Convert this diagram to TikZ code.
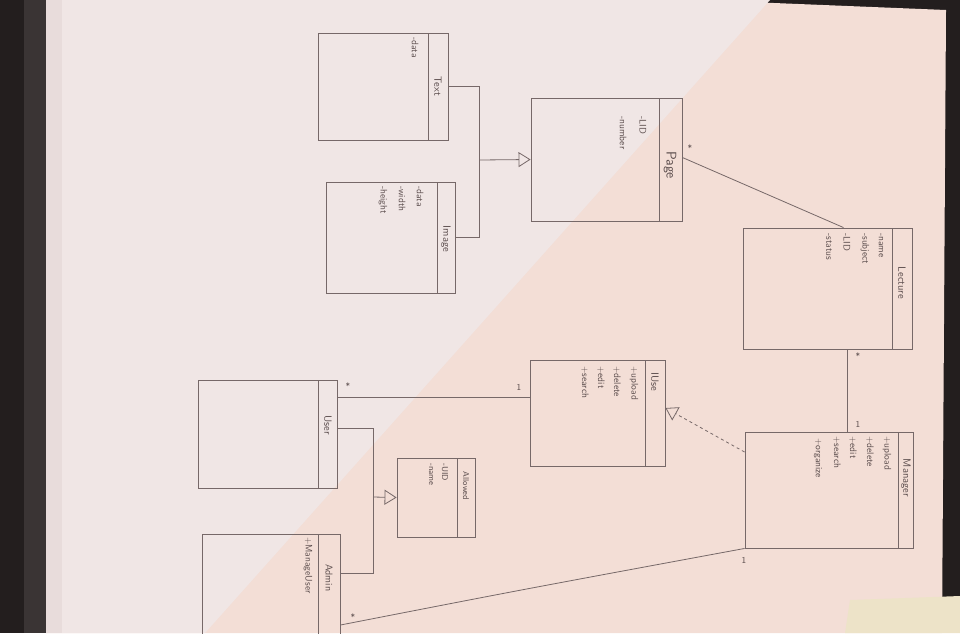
\documentclass[tikz,border=0pt]{standalone}
\usetikzlibrary{arrows.meta,fit,calc}
\definecolor{paperA}{HTML}{F0E6E5}
\definecolor{paperB}{HTML}{F3DED6}
\definecolor{paperC}{HTML}{E8DCDB}
\definecolor{linec}{HTML}{766868}
\definecolor{inkc}{HTML}{5A4C4C}
\definecolor{darkbg}{HTML}{231E1E}
\definecolor{edgebg}{HTML}{3A3434}
\definecolor{creamc}{HTML}{EDE3C8}
\tikzset{
  cls/.style={draw=linec, line width=0.9pt, inner sep=0pt},
  divline/.style={draw=linec, line width=0.9pt},
  conn/.style={draw=linec, line width=0.8pt},
  gen/.style={conn, -{Triangle[open, length=12pt, width=15pt]}},
  real/.style={conn, dashed, -{Triangle[open, length=12pt, width=15pt]}},
  attr/.style={rotate=-90, anchor=west, inner sep=0pt, text=inkc, font=\sffamily\fontsize{9.5}{10}\selectfont},
  hdr/.style={rotate=-90, anchor=center, inner sep=0pt, text=inkc, font=\sffamily\fontsize{10.5}{11}\selectfont},
  mult/.style={inner sep=0pt, text=inkc, font=\sffamily\fontsize{9}{10}\selectfont}
}
\newcommand\umlcls[6]{%
  \node[cls, fit={(#2,#3) (#4,#5)}] (#1) {};
  \draw[divline] (#6,#3) -- (#6,#5);
}
\begin{document}
\begin{tikzpicture}[x=1pt,y=-1pt]
\useasboundingbox (0,0) rectangle (960,633);
\clip (0,0) rectangle (960,633);
% photo background
\fill[darkbg] (0,0) rectangle (960,633);
\fill[edgebg] (24,0) rectangle (46,633);
\fill[paperB] (46,0) -- (700,0) -- (946,10) -- (942,633) -- (46,633) -- cycle;
\fill[paperA] (46,0) -- (770,0) -- (205,633) -- (46,633) -- cycle;
\fill[paperC] (46,0) -- (62,0) -- (62,633) -- (46,633) -- cycle;
\fill[creamc] (850,600) -- (960,596) -- (960,633) -- (845,633) -- cycle;

% classes
\umlcls{text}{318}{33}{448}{140}{428}
\node[hdr] at (438,86) {Text};
\node[attr] at (415,37) {-data};

\umlcls{image}{326}{182}{455}{293}{437}
\node[hdr] at (446,239) {Image};
\node[attr] at (420,186) {-data};
\node[attr] at (402,186) {-width};
\node[attr] at (383,186) {-height};

\umlcls{page}{531}{98}{682}{221}{659}
\node[hdr, font=\sffamily\fontsize{14}{15}\selectfont] at (670,165) {Page};
\node[attr] at (643,116) {-LID};
\node[attr] at (623,116) {-number};

\umlcls{lecture}{743}{228}{912}{349}{892}
\node[hdr] at (902,283) {Lecture};
\node[attr] at (881,233) {-name};
\node[attr] at (865,233) {-subject};
\node[attr] at (847,233) {-LID};
\node[attr] at (829,233) {-status};

\umlcls{iface}{530}{360}{665}{466}{645}
\node[hdr] at (655,382) {IUse};
\node[attr] at (634,366) {+upload};
\node[attr] at (617,366) {+delete};
\node[attr] at (601,366) {+edit};
\node[attr] at (585,366) {+search};

\umlcls{manager}{745}{432}{913}{548}{898}
\node[hdr] at (906,478) {Manager};
\node[attr] at (887,436) {+upload};
\node[attr] at (870,436) {+delete};
\node[attr] at (853,436) {+edit};
\node[attr] at (837,436) {+search};
\node[attr] at (818,438) {+organize};

\umlcls{user}{198}{380}{337}{488}{318}
\node[hdr] at (328,425) {User};

\umlcls{allowed}{397}{458}{475}{537}{457}
\node[hdr, font=\sffamily\fontsize{8.5}{9}\selectfont] at (466,486) {Allowed};
\node[attr, font=\sffamily\fontsize{8.5}{9}\selectfont] at (445,463) {-UID};
\node[attr, font=\sffamily\fontsize{8.5}{9}\selectfont] at (431,463) {-name};

\umlcls{admin}{202}{534}{340}{700}{318}
\node[attr, font=\sffamily\fontsize{10}{11}\selectfont] at (329,564) {Admin};
\node[attr] at (308,537) {+ManageUser};

% Text / Image -> Page
\coordinate (j1) at (479,160);
\draw[conn] (text.east) -- (text.east -| j1) -- (image.east -| j1) -- (image.east);
\draw[gen] (j1) -- (page.west);

% Page -- Lecture
\draw[conn] ([yshift=2pt]page.east) -- ([xshift=16pt]lecture.north);
\node[mult] (m1) at (690,148) {*};

% Lecture -- Manager
\coordinate (j3) at ([xshift=20pt]lecture.south);
\draw[conn] (j3) -- (j3 |- manager.north);
\node[mult] (m2) at (858,356) {*};
\node[mult] (m3) at (858,424) {1};

% User -- IUse
\coordinate (j4) at ([yshift=37pt]user.east);
\draw[conn] (j4) -- (j4 -| iface.west);
\node[mult] (m4) at (348,386) {*};
\node[mult] (m5) at (519,387) {1};

% Manager realizes IUse
\draw[real] ([yshift=38pt]manager.west) -- ([yshift=5pt]iface.east);

% User / Admin -> Allowed
\coordinate (j2) at (373,497);
\coordinate (u1) at ([yshift=6pt]user.east);
\coordinate (a1) at (admin.east |- 0,573);
\draw[conn] (u1) -- (u1 -| j2) -- (a1 -| j2) -- (a1);
\draw[gen] (j2) -- (allowed.west);

% Admin -- Manager
\coordinate (a2) at (admin.east |- 0,625);
\draw[conn] (a2) .. controls (520,590) .. (manager.south west);
\node[mult] (m6) at (353,617) {*};
\node[mult] (m7) at (744,560) {1};
\end{tikzpicture}
\end{document}
